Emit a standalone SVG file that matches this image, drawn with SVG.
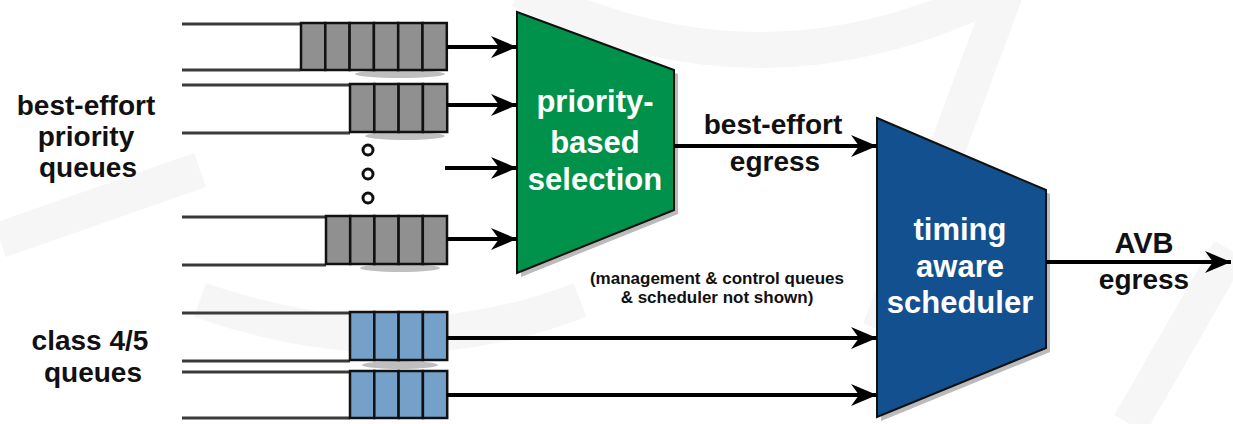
<svg xmlns="http://www.w3.org/2000/svg" width="1233" height="424" viewBox="0 0 1233 424">
  <style>
    .lbl { font-family: "Liberation Sans", Arial, sans-serif; font-weight: bold; fill: #111; text-anchor: middle; }
    .wht { font-family: "Liberation Sans", Arial, sans-serif; font-weight: bold; fill: #ffffff; text-anchor: middle; font-size: 31px; }
    .rail { stroke: #3a3a3a; stroke-width: 3; fill: none; }
    .cellg { fill: #909090; stroke: #111; stroke-width: 2.5; }
    .cellb { fill: #74a0c9; stroke: #111; stroke-width: 2.5; }
    .arr { stroke: #000; stroke-width: 4; fill: none; marker-end: url(#ah); }
    .shadow { fill: #8a8a8a; opacity: 0.55; }
    .wm { fill: none; stroke: #f6f6f6; stroke-width: 36; }
  </style>
  <defs>
    <marker id="ah" markerUnits="userSpaceOnUse" markerWidth="28" markerHeight="24" refX="26" refY="12" orient="auto">
      <path d="M0,1 L26,12 L0,23 L8,12 Z" fill="#000"/>
    </marker>
  </defs>
  <rect width="1233" height="424" fill="#ffffff"/>
  <!-- faint watermark -->
  <g id="watermark">
    <path class="wm" d="M520,-10 Q760,110 1000,-10"/>
    <path class="wm" d="M1010,-20 L880,330"/>
    <path class="wm" d="M1230,250 L1130,424"/>
    <path class="wm" d="M0,240 L200,170"/>
    <path class="wm" d="M200,300 Q400,370 580,300"/>
  </g>

  <!-- left labels -->
  <g id="label-be">
    <text class="lbl" x="86" y="115" font-size="28">best-effort</text>
    <text class="lbl" x="86" y="146" font-size="28">priority</text>
    <text class="lbl" x="88" y="177" font-size="28">queues</text>
  </g>
  <g id="label-class">
    <text class="lbl" x="90" y="350" font-size="28">class 4/5</text>
    <text class="lbl" x="93" y="382" font-size="28">queues</text>
  </g>

  <!-- best-effort queues -->
  <g id="queue-be1">
    <ellipse class="shadow" cx="400" cy="74" rx="45" ry="4"/>
    <line class="rail" x1="182" y1="24" x2="300" y2="24"/>
    <line class="rail" x1="182" y1="70" x2="300" y2="70"/>
    <rect class="cellg" x="301" y="23" width="24.3" height="47"/>
    <rect class="cellg" x="325.3" y="23" width="24.3" height="47"/>
    <rect class="cellg" x="349.6" y="23" width="24.3" height="47"/>
    <rect class="cellg" x="373.9" y="23" width="24.3" height="47"/>
    <rect class="cellg" x="398.2" y="23" width="24.3" height="47"/>
    <rect class="cellg" x="422.5" y="23" width="24.3" height="47"/>
  </g>
  <g id="queue-be2">
    <ellipse class="shadow" cx="405" cy="136" rx="40" ry="4"/>
    <line class="rail" x1="182" y1="85" x2="350" y2="85"/>
    <line class="rail" x1="182" y1="133" x2="350" y2="133"/>
    <rect class="cellg" x="350" y="84" width="24.3" height="48"/>
    <rect class="cellg" x="374.3" y="84" width="24.3" height="48"/>
    <rect class="cellg" x="398.6" y="84" width="24.3" height="48"/>
    <rect class="cellg" x="422.9" y="84" width="24.3" height="48"/>
  </g>
  <g id="ellipsis">
    <circle cx="368" cy="150" r="5" fill="#fff" stroke="#111" stroke-width="3"/>
    <circle cx="368" cy="174" r="5" fill="#fff" stroke="#111" stroke-width="3"/>
    <circle cx="368" cy="198" r="5" fill="#fff" stroke="#111" stroke-width="3"/>
  </g>
  <g id="queue-be4">
    <ellipse class="shadow" cx="400" cy="268" rx="40" ry="4"/>
    <line class="rail" x1="182" y1="217" x2="326" y2="217"/>
    <line class="rail" x1="182" y1="265" x2="326" y2="265"/>
    <rect class="cellg" x="326" y="216" width="24.2" height="48"/>
    <rect class="cellg" x="350.2" y="216" width="24.2" height="48"/>
    <rect class="cellg" x="374.4" y="216" width="24.2" height="48"/>
    <rect class="cellg" x="398.6" y="216" width="24.2" height="48"/>
    <rect class="cellg" x="422.8" y="216" width="24.2" height="48"/>
  </g>

  <!-- class 4/5 queues -->
  <g id="queue-c1">
    <ellipse class="shadow" cx="400" cy="365" rx="38" ry="4"/>
    <line class="rail" x1="182" y1="313" x2="350" y2="313"/>
    <line class="rail" x1="182" y1="361" x2="350" y2="361"/>
    <rect class="cellb" x="350" y="312" width="24.3" height="48"/>
    <rect class="cellb" x="374.3" y="312" width="24.3" height="48"/>
    <rect class="cellb" x="398.6" y="312" width="24.3" height="48"/>
    <rect class="cellb" x="422.9" y="312" width="24.3" height="48"/>
  </g>
  <g id="queue-c2">
    <line class="rail" x1="182" y1="372" x2="350" y2="372"/>
    <line class="rail" x1="182" y1="418" x2="350" y2="418"/>
    <rect class="cellb" x="350" y="371" width="24.3" height="47"/>
    <rect class="cellb" x="374.3" y="371" width="24.3" height="47"/>
    <rect class="cellb" x="398.6" y="371" width="24.3" height="47"/>
    <rect class="cellb" x="422.9" y="371" width="24.3" height="47"/>
  </g>

  <!-- priority-based selection -->
  <g id="node-priority">
    <polygon points="521,16 678,74 678,214 521,277" fill="#777" opacity="0.5"/>
    <polygon points="517,12 674,70 674,210 517,273" fill="#00924a" stroke="#111" stroke-width="2"/>
    <text class="wht" x="595" y="112">priority-</text>
    <text class="wht" x="595" y="153">based</text>
    <text class="wht" x="595" y="190">selection</text>
  </g>

  <!-- timing aware scheduler -->
  <g id="node-scheduler">
    <polygon points="881,122 1050,194 1050,352 881,421" fill="#777" opacity="0.5"/>
    <polygon points="877,118 1046,190 1046,348 877,417" fill="#12508f" stroke="#111" stroke-width="2"/>
    <text class="wht" x="960" y="240">timing</text>
    <text class="wht" x="960" y="277">aware</text>
    <text class="wht" x="960" y="313">scheduler</text>
  </g>

  <!-- connectors -->
  <g id="connectors">
    <line class="arr" x1="447" y1="47" x2="517" y2="47"/>
    <line class="arr" x1="447" y1="105" x2="517" y2="105"/>
    <line class="arr" x1="445" y1="168" x2="517" y2="168"/>
    <line class="arr" x1="447" y1="239" x2="517" y2="239"/>
    <line class="arr" x1="674" y1="146" x2="877" y2="146"/>
    <line class="arr" x1="447" y1="338" x2="877" y2="338"/>
    <line class="arr" x1="447" y1="395" x2="877" y2="395"/>
    <line class="arr" x1="1046" y1="262" x2="1231" y2="262"/>
  </g>

  <!-- connector labels -->
  <g id="labels">
    <text class="lbl" x="773" y="134" font-size="28">best-effort</text>
    <text class="lbl" x="775" y="171" font-size="28">egress</text>
    <text class="lbl" x="1144" y="253" font-size="29">AVB</text>
    <text class="lbl" x="1144" y="289" font-size="28">egress</text>
    <text class="lbl" x="717" y="284" font-size="17">(management &amp; control queues</text>
    <text class="lbl" x="717" y="303" font-size="17">&amp; scheduler not shown)</text>
  </g>
</svg>
